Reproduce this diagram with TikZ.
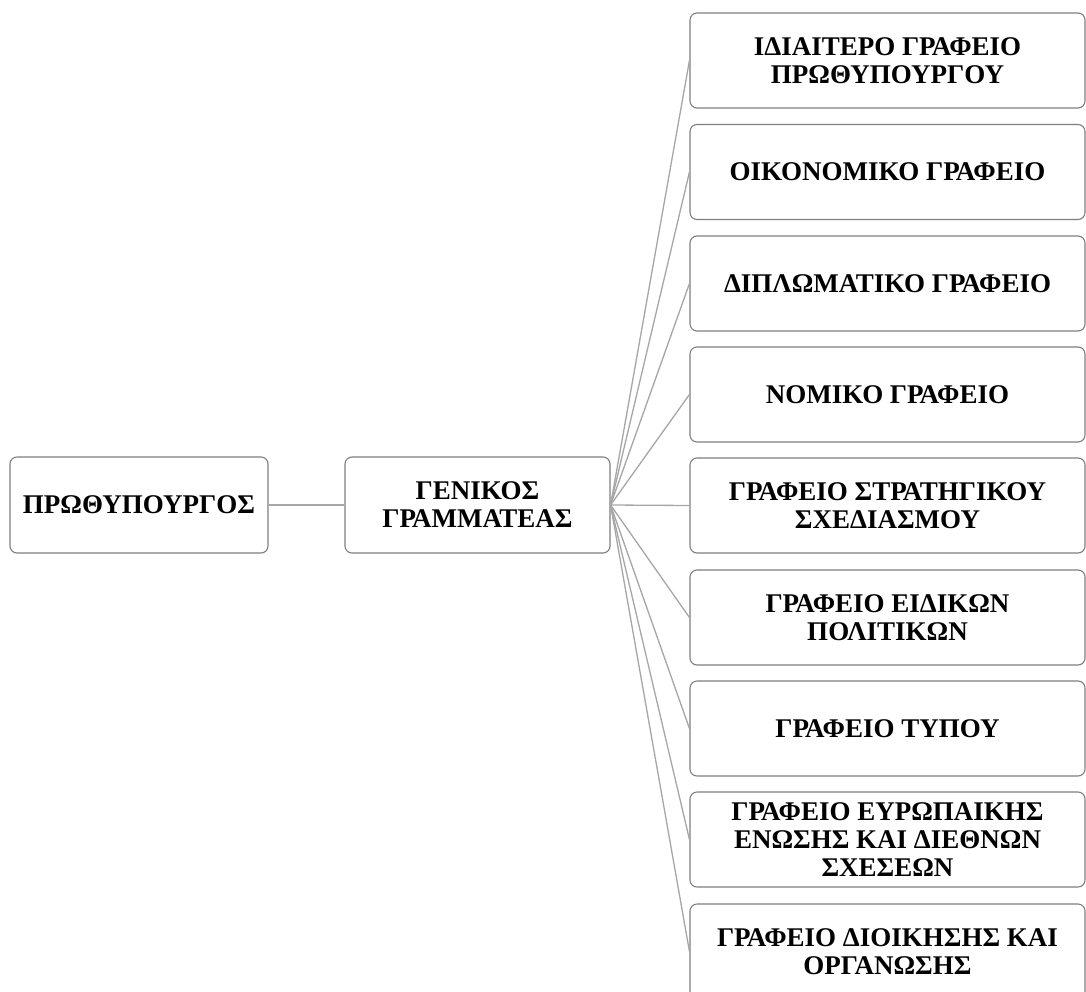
\documentclass[tikz,border=0pt]{standalone}
\usepackage{fontspec}
\setmainfont{Liberation Serif}
\definecolor{boxgray}{HTML}{7F7F7F}
\definecolor{linegray}{HTML}{A6A6A6}
\begin{document}
\begin{tikzpicture}[x=1pt,y=-1pt,
  box/.style={draw=boxgray, line width=1.1pt, rounded corners=7pt, align=center,
    font=\fontsize{27}{28}\selectfont\bfseries, inner sep=0pt, fill=white},
  leftbox/.style={box, minimum height=96pt},
  rbox/.style={box, minimum width=395pt, minimum height=95pt},
  link/.style={draw=linegray, line width=1.3pt}]
\fill[white] (0,0) rectangle (1086,992);
\clip (0,0) rectangle (1086,992);
\useasboundingbox (0,0) rectangle (1086,992);

\node[leftbox, minimum width=258pt] (pm) at (139,505) {ΠΡΩΘΥΠΟΥΡΓΟΣ};
\node[leftbox, minimum width=265pt] (gs) at (477.5,505) {ΓΕΝΙΚΟΣ\\ΓΡΑΜΜΑΤΕΑΣ};

\node[rbox] (r1) at (887.5,60.5) {ΙΔΙΑΙΤΕΡΟ ΓΡΑΦΕΙΟ\\ΠΡΩΘΥΠΟΥΡΓΟΥ};
\node[rbox] (r2) at (887.5,172) {ΟΙΚΟΝΟΜΙΚΟ ΓΡΑΦΕΙΟ};
\node[rbox] (r3) at (887.5,283.5) {ΔΙΠΛΩΜΑΤΙΚΟ ΓΡΑΦΕΙΟ};
\node[rbox] (r4) at (887.5,394.5) {ΝΟΜΙΚΟ ΓΡΑΦΕΙΟ};
\node[rbox] (r5) at (887.5,505.5) {ΓΡΑΦΕΙΟ ΣΤΡΑΤΗΓΙΚΟΥ\\ΣΧΕΔΙΑΣΜΟΥ};
\node[rbox] (r6) at (887.5,617.5) {ΓΡΑΦΕΙΟ ΕΙΔΙΚΩΝ\\ΠΟΛΙΤΙΚΩΝ};
\node[rbox] (r7) at (887.5,728.5) {ΓΡΑΦΕΙΟ ΤΥΠΟΥ};
\node[rbox] (r8) at (887.5,839.5) {ΓΡΑΦΕΙΟ ΕΥΡΩΠΑΙΚΗΣ\\ΕΝΩΣΗΣ ΚΑΙ ΔΙΕΘΝΩΝ\\ΣΧΕΣΕΩΝ};
\node[rbox] (r9) at (887.5,951.5) {ΓΡΑΦΕΙΟ ΔΙΟΙΚΗΣΗΣ ΚΑΙ\\ΟΡΓΑΝΩΣΗΣ};

\draw[link] (pm.east) -- (gs.west);
\foreach \r in {r1,r2,r3,r4,r5,r6,r7,r8,r9}
  \draw[link] (gs.east) -- (\r.west);
\end{tikzpicture}
\end{document}
